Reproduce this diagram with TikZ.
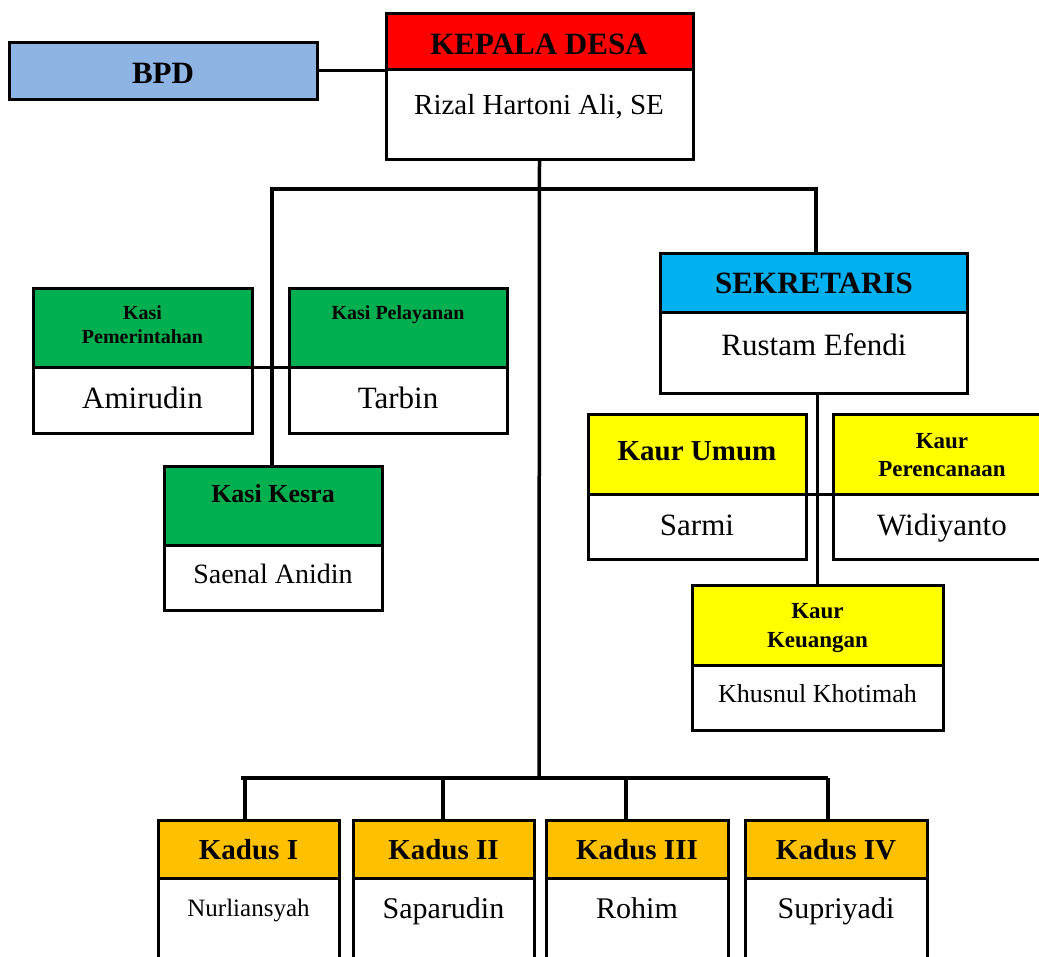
\documentclass[tikz,border=0pt]{standalone}
\usepackage{fontspec}
\setmainfont{Liberation Serif}
\definecolor{bpdblue}{HTML}{8EB4E3}
\definecolor{kdred}{HTML}{FF0000}
\definecolor{sekblue}{HTML}{00B0F0}
\definecolor{kasigreen}{HTML}{00B050}
\definecolor{kauryellow}{HTML}{FFFF00}
\definecolor{kadusorange}{HTML}{FFC000}
\newcommand\fsz[2]{\fontsize{#1}{#2}\selectfont}
\newcommand\orgbox[7]{%
  \node[hdrbox, fill=#7, minimum width={(#5-#2)*1pt}, minimum height={(#4-#3)*1pt}] (#1-h) at (#2,#3) {};
  \node[bodybox, minimum width={(#5-#2)*1pt}, minimum height={(#6-#4)*1pt}] (#1-b) at (#2,#4) {};
}
\begin{document}
\begin{tikzpicture}[x=1pt,y=-1pt,
  hdrbox/.style={draw, line width=3pt, anchor=north west, inner sep=0pt, outer sep=0pt},
  bodybox/.style={draw, fill=white, line width=3pt, anchor=north west, inner sep=0pt, outer sep=0pt},
  txt/.style={anchor=base, inner sep=0pt, align=center},
  conn/.style={line width=3.5pt},
  cross/.style={line width=3pt}]
\useasboundingbox (0,0) rectangle (1039,956);
\clip (0,0) rectangle (1039,956);
\fill[white] (0,0) rectangle (1039,956);

\coordinate (busL) at (272,189);
\coordinate (busR) at (816,189);
\coordinate (mainT) at (539,159);
\coordinate (mainB) at (539,778);
\coordinate (botL) at (241,778);
\coordinate (botR) at (828,778);
\coordinate (d1) at (245,778);
\coordinate (d2) at (443,778);
\coordinate (d3) at (626,778);
\coordinate (d4) at (828,778);

% boxes
\node[hdrbox, fill=bpdblue, minimum width=308pt, minimum height=57pt] (bpd) at (9,42) {};
\orgbox{kd}{386}{13}{69}{693}{159}{kdred}
\orgbox{sek}{660}{253}{312}{967}{393}{sekblue}
\orgbox{kpem}{33}{288}{367}{252}{433}{kasigreen}
\orgbox{kpel}{289}{288}{367}{507}{433}{kasigreen}
\orgbox{kkes}{164}{466}{545}{382}{610}{kasigreen}
\orgbox{kum}{588}{414}{494}{806}{559}{kauryellow}
\orgbox{kper}{833}{414}{494}{1051}{559}{kauryellow}
\orgbox{kkeu}{692}{585}{665}{943}{730}{kauryellow}
\orgbox{kd1}{158}{820}{878}{339}{1000}{kadusorange}
\orgbox{kd2}{353}{820}{878}{534}{1000}{kadusorange}
\orgbox{kd3}{546}{820}{878}{728}{1000}{kadusorange}
\orgbox{kd4}{745}{820}{878}{927}{1000}{kadusorange}

% connector lines
\draw[conn] (bpd.east) -- (bpd.east -| kd-h.west);
\draw[conn] (kd-b.south |- mainT) -- (mainB);
\draw[conn] (kkes-h.north -| busL) -- (busL) -- (busR) -- (busR |- sek-h.north);
\draw[conn] (kkeu-h.north) -- (kkeu-h.north |- sek-b.south);
\draw[cross] (kpem-h.south east) -- (kpel-h.south west);
\draw[cross] (kum-h.south east) -- (kper-h.south west);
\draw[conn] (botL) -- (botR);
\draw[conn] (d1) -- (d1 |- kd1-h.north);
\draw[conn] (d2) -- (d2 |- kd2-h.north);
\draw[conn] (d3) -- (d3 |- kd3-h.north);
\draw[conn] (d4) -- (d4 |- kd4-h.north);

% texts
\node[txt, font=\fsz{31}{36}\bfseries] (bpd-t) at (163,83) {BPD};
\node[txt, font=\fsz{31}{36}\bfseries] (kd-t) at (539,54) {KEPALA DESA};
\node[txt, font=\fsz{29}{34}] (kd-n) at (539,114) {Rizal Hartoni Ali, SE};
\node[txt, font=\fsz{31}{36}\bfseries] (sek-t) at (814,293) {SEKRETARIS};
\node[txt, font=\fsz{31}{36}] (sek-n) at (814,355) {Rustam Efendi};
\node[txt, font=\fsz{20}{24}\bfseries] (kpem-t) at (142.5,343) {Kasi\\Pemerintahan};
\node[txt, font=\fsz{31}{36}] (kpem-n) at (142.5,408) {Amirudin};
\node[txt, font=\fsz{20}{24}\bfseries] (kpel-t) at (398,319) {Kasi Pelayanan};
\node[txt, font=\fsz{31}{36}] (kpel-n) at (398,408) {Tarbin};
\node[txt, font=\fsz{26}{30}\bfseries] (kkes-t) at (273,502) {Kasi Kesra};
\node[txt, font=\fsz{28}{34}] (kkes-n) at (273,583) {Saenal Anidin};
\node[txt, font=\fsz{29}{34}\bfseries] (kum-t) at (697,460) {Kaur Umum};
\node[txt, font=\fsz{31}{36}] (kum-n) at (697,535) {Sarmi};
\node[txt, font=\fsz{23}{28}\bfseries] (kper-t) at (942,476) {Kaur\\Perencanaan};
\node[txt, font=\fsz{31}{36}] (kper-n) at (942,535) {Widiyanto};
\node[txt, font=\fsz{23}{29}\bfseries] (kkeu-t) at (817.5,647) {Kaur\\Keuangan};
\node[txt, font=\fsz{26}{30}] (kkeu-n) at (817.5,702) {Khusnul Khotimah};
\node[txt, font=\fsz{29}{34}\bfseries] (kd1-t) at (248.5,859) {Kadus I};
\node[txt, font=\fsz{25}{30}] (kd1-n) at (248.5,916) {Nurliansyah};
\node[txt, font=\fsz{29}{34}\bfseries] (kd2-t) at (443.5,859) {Kadus II};
\node[txt, font=\fsz{30}{36}] (kd2-n) at (443.5,918) {Saparudin};
\node[txt, font=\fsz{29}{34}\bfseries] (kd3-t) at (637,859) {Kadus III};
\node[txt, font=\fsz{30}{36}] (kd3-n) at (637,918) {Rohim};
\node[txt, font=\fsz{29}{34}\bfseries] (kd4-t) at (836,859) {Kadus IV};
\node[txt, font=\fsz{30}{36}] (kd4-n) at (836,918) {Supriyadi};
\end{tikzpicture}
\end{document}
